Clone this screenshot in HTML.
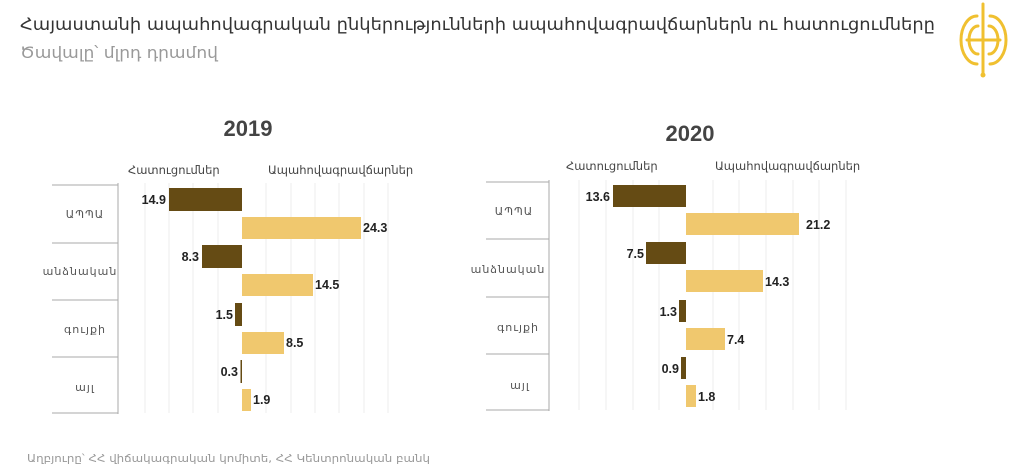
<!DOCTYPE html>
<html><head><meta charset="utf-8"><style>
html,body{margin:0;padding:0;background:#fff;width:1024px;height:470px;overflow:hidden}
svg text{font-family:"DejaVu Sans","Liberation Sans",sans-serif}
.v{font-family:"Liberation Sans",sans-serif;font-weight:bold;font-size:12.5px;fill:#222}
.c{font-size:11px;fill:#555;letter-spacing:1px}
.h{font-size:11.5px;fill:#444}
</style></head><body>
<svg width="1024" height="470" xmlns="http://www.w3.org/2000/svg">
<text x="20" y="30" font-size="17" fill="#333" textLength="915" lengthAdjust="spacingAndGlyphs">Հայաստանի ապահովագրական ընկերությունների  ապահովագրավճարներն ու հատուցումները</text>
<text x="20" y="58" font-size="16" fill="#999" textLength="198" lengthAdjust="spacingAndGlyphs">Ծավալը՝ մլրդ դրամով</text>
<g fill="none" stroke="#f0c030" stroke-width="3" stroke-linecap="round">
<line x1="983" y1="4" x2="983" y2="74"/><line x1="967" y1="40" x2="1000" y2="40"/>
<path d="M977 16 A16 24 0 0 0 977 64"/><path d="M990 16 A16 24 0 0 1 990 64"/>
<path d="M978 26 A9 14 0 0 0 978 54"/><path d="M989 26 A9 14 0 0 1 989 54"/>
</g>
<circle cx="983" cy="75" r="2.5" fill="#f0c030"/>

<text x="248" y="136" font-weight="bold" font-size="22" fill="#444" text-anchor="middle" style="font-family:'Liberation Sans'">2019</text>
<text x="690" y="141" font-weight="bold" font-size="22" fill="#444" text-anchor="middle" style="font-family:'Liberation Sans'">2020</text>

<!-- chart 1 -->
<g stroke="#ececec" stroke-width="1">
<line x1="145" y1="183" x2="145" y2="413"/><line x1="169" y1="183" x2="169" y2="413"/><line x1="193" y1="183" x2="193" y2="413"/><line x1="218" y1="183" x2="218" y2="413"/><line x1="266" y1="183" x2="266" y2="413"/><line x1="291" y1="183" x2="291" y2="413"/><line x1="315" y1="183" x2="315" y2="413"/><line x1="339" y1="183" x2="339" y2="413"/><line x1="364" y1="183" x2="364" y2="413"/><line x1="388" y1="183" x2="388" y2="413"/>
</g>
<g stroke="#aaa"><line x1="118" y1="183" x2="118" y2="414"/>
<line x1="52" y1="185" x2="118" y2="185"/><line x1="52" y1="243" x2="118" y2="243"/><line x1="52" y1="300" x2="118" y2="300"/><line x1="52" y1="357" x2="118" y2="357"/><line x1="52" y1="413" x2="118" y2="413"/></g>
<text class="h" x="128" y="174">Հատուցումներ</text>
<text class="h" x="268" y="174">Ապահովագրավճարներ</text>
<text class="c" x="85" y="218" text-anchor="middle">ԱՊՊԱ</text>
<text class="c" x="80" y="275" text-anchor="middle">անձնական</text>
<text class="c" x="85" y="333" text-anchor="middle">գույքի</text>
<text class="c" x="85" y="391" text-anchor="middle">այլ</text>
<g fill="#654b14">
<rect x="169" y="188" width="73" height="23"/><rect x="202" y="245" width="40" height="23"/><rect x="235" y="303" width="7" height="23"/><rect x="240.5" y="360" width="1.5" height="23"/></g>
<g fill="#f0c86e">
<rect x="242" y="217" width="119" height="22"/><rect x="242" y="274" width="71" height="22"/><rect x="242" y="332" width="42" height="22"/><rect x="242" y="389" width="9" height="22"/></g>
<text class="v" x="166" y="204" text-anchor="end">14.9</text>
<text class="v" x="199" y="261" text-anchor="end">8.3</text>
<text class="v" x="233" y="319" text-anchor="end">1.5</text>
<text class="v" x="238" y="376" text-anchor="end">0.3</text>
<text class="v" x="363" y="232">24.3</text>
<text class="v" x="315" y="289">14.5</text>
<text class="v" x="286" y="347">8.5</text>
<text class="v" x="253" y="404">1.9</text>

<!-- chart 2 -->
<g stroke="#ececec" stroke-width="1">
<line x1="579" y1="180" x2="579" y2="410"/><line x1="606" y1="180" x2="606" y2="410"/><line x1="633" y1="180" x2="633" y2="410"/><line x1="659" y1="180" x2="659" y2="410"/><line x1="713" y1="180" x2="713" y2="410"/><line x1="739" y1="180" x2="739" y2="410"/><line x1="766" y1="180" x2="766" y2="410"/><line x1="793" y1="180" x2="793" y2="410"/><line x1="819" y1="180" x2="819" y2="410"/><line x1="846" y1="180" x2="846" y2="410"/>
</g>
<g stroke="#aaa"><line x1="549" y1="180" x2="549" y2="411"/>
<line x1="486" y1="182" x2="549" y2="182"/><line x1="486" y1="239" x2="549" y2="239"/><line x1="486" y1="297" x2="549" y2="297"/><line x1="486" y1="354" x2="549" y2="354"/><line x1="486" y1="410" x2="549" y2="410"/></g>
<text class="h" x="566" y="170">Հատուցումներ</text>
<text class="h" x="715" y="170">Ապահովագրավճարներ</text>
<text class="c" x="514" y="215" text-anchor="middle">ԱՊՊԱ</text>
<text class="c" x="508" y="273" text-anchor="middle">անձնական</text>
<text class="c" x="518" y="331" text-anchor="middle">գույքի</text>
<text class="c" x="520" y="389" text-anchor="middle">այլ</text>
<g fill="#654b14">
<rect x="613" y="185" width="73" height="22"/><rect x="646" y="242" width="40" height="22"/><rect x="679" y="300" width="7" height="22"/><rect x="681" y="357" width="5" height="22"/></g>
<g fill="#f0c86e">
<rect x="686" y="213" width="113" height="22"/><rect x="686" y="270" width="77" height="22"/><rect x="686" y="328" width="39" height="22"/><rect x="686" y="385" width="10" height="22"/></g>
<text class="v" x="610" y="201" text-anchor="end">13.6</text>
<text class="v" x="644" y="258" text-anchor="end">7.5</text>
<text class="v" x="677" y="316" text-anchor="end">1.3</text>
<text class="v" x="679" y="373" text-anchor="end">0.9</text>
<text class="v" x="806" y="229">21.2</text>
<text class="v" x="765" y="286">14.3</text>
<text class="v" x="727" y="344">7.4</text>
<text class="v" x="698" y="401">1.8</text>

<text x="27" y="462" font-size="11" fill="#999" textLength="403" lengthAdjust="spacingAndGlyphs">Աղբյուրը՝  ՀՀ վիճակագրական կոմիտե, ՀՀ Կենտրոնական բանկ</text>
</svg>
</body></html>
